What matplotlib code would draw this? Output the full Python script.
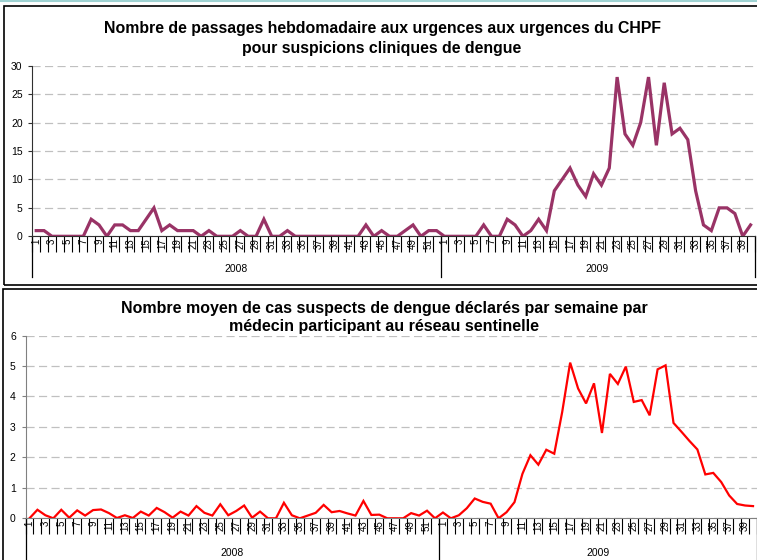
import matplotlib
matplotlib.use("Agg")
import matplotlib.pyplot as plt
from matplotlib.lines import Line2D
from matplotlib.patches import Rectangle
import matplotlib.transforms as mtransforms

plt.rcParams['font.family'] = ['Liberation Sans', 'DejaVu Sans']

# weeks shown on the category axis
weeks_2008 = list(range(1, 53))
weeks_2009 = list(range(1, 41))
years = ['2008', '2009']

# weekly ER visits at CHPF for clinical suspicion of dengue
urg_2008 = [1, 1, 0, 0, 0, 0, 0, 3, 2, 0,
            2, 2, 1, 1, 3, 5, 1, 2, 1, 1,
            1, 0, 1, 0, 0, 0, 1, 0, 0, 3,
            0, 0, 1, 0, 0, 0, 0, 0, 0, 0,
            0, 0, 2, 0, 1, 0, 0, 1, 2, 0,
            1, 1]
urg_2009 = [0, 0, 0, 0, 0, 2, 0, 0, 3, 2,
            0, 1, 3, 1, 8, 10, 12, 9, 7, 11,
            9, 12, 28, 18, 16, 20, 28, 16, 27, 18,
            19, 17, 8, 2, 1, 5, 5, 4, 0, 2]

# mean suspected cases per sentinel physician per week
sent_2008 = [0, 0.28, 0.1, 0, 0.28, 0.02, 0.26, 0.09, 0.27, 0.29,
             0.17, 0.01, 0.1, 0.01, 0.22, 0.09, 0.34, 0.2, 0.02, 0.22,
             0.09, 0.4, 0.18, 0.09, 0.46, 0.1, 0.24, 0.42, 0.02, 0.22,
             0, 0, 0.51, 0.1, 0, 0.09, 0.18, 0.44, 0.2, 0.24,
             0.16, 0.09, 0.57, 0.11, 0.12, 0, 0, 0, 0.17, 0.09,
             0.25, 0]
sent_2009 = [0.19, 0, 0.1, 0.33, 0.65, 0.54, 0.48, 0, 0.2, 0.53,
             1.46, 2.07, 1.76, 2.25, 2.12, 3.49, 5.11, 4.26, 3.77, 4.43,
             2.8, 4.74, 4.41, 4.98, 3.82, 3.88, 3.38, 4.89, 5.02, 3.13,
             2.84, 2.54, 2.26, 1.44, 1.49, 1.19, 0.75, 0.47, 0.42, 0.4]

title_top = ("Nombre de passages hebdomadaire aux urgences aux urgences du CHPF\n"
             "pour suspicions cliniques de dengue")
title_bottom = ("Nombre moyen de cas suspects de dengue déclarés par semaine par\n"
                "médecin participant au réseau sentinelle")

W, H = 757, 560
fig = plt.figure(figsize=(W / 100, H / 100), dpi=100)


def px(x0, y0, x1, y1):
    # pixel box (top-left origin) -> figure fraction rect
    return [x0 / W, 1 - y1 / H, (x1 - x0) / W, (y1 - y0) / H]


def draw_panel(ax, v2008, v2009, color, lw, ymax, ystep, axis_color, drop):
    values = v2008 + v2009
    weeks = weeks_2008 + weeks_2009
    n = len(values)
    x = list(range(n))
    ax.plot(x, values, color=color, lw=lw, solid_joinstyle='miter', zorder=3)
    ax.set_xlim(-0.5, n - 0.5)
    ax.set_ylim(0, ymax)
    ax.set_yticks([i * ystep for i in range(int(ymax / ystep) + 1)])
    ax.yaxis.grid(True, linestyle=(0, (6.5, 3.5)), color='#c0c0c0', lw=0.9)
    ax.set_axisbelow(True)
    for s in ['top', 'right']:
        ax.spines[s].set_visible(False)
    ax.spines['left'].set_color(axis_color)
    ax.spines['bottom'].set_color(axis_color)
    ax.tick_params(axis='y', length=3, pad=4, labelsize=7.5, color=axis_color)

    # category labels (odd weeks) at centres, tick marks between categories
    ax.set_xticks(x)
    ax.set_xticklabels([str(w) if w % 2 == 1 else '' for w in weeks],
                       rotation=90, fontsize=7)
    ax.tick_params(axis='x', which='major', length=0, pad=1.5)
    ax.set_xticks([i - 0.5 for i in range(n + 1)], minor=True)
    ax.tick_params(axis='x', which='minor', length=11.5, width=0.8,
                   color='black', direction='out')

    # second level: years
    trans = mtransforms.blended_transform_factory(ax.transData, ax.transAxes)
    split = len(v2008) - 0.5
    for xb in [-0.5, split, n - 0.5]:
        ax.add_line(Line2D([xb, xb], [0, -drop], transform=trans,
                           color='black', lw=0.9, clip_on=False))
    ax.text((len(v2008) - 1) / 2, -0.19, years[0], transform=trans,
            ha='center', va='center', fontsize=7.5)
    ax.text(len(v2008) + (len(v2009) - 1) / 2, -0.19, years[1], transform=trans,
            ha='center', va='center', fontsize=7.5)


ax1 = fig.add_axes(px(32.3, 65.7, 754.5, 236.3))
draw_panel(ax1, urg_2008, urg_2009, '#993366', 2.3, 30, 5, '#303030', 0.24)

ax2 = fig.add_axes(px(25.5, 335.5, 757.0, 518.3))
draw_panel(ax2, sent_2008, sent_2009, '#ff0000', 1.6, 6, 1, '#808080', 0.26)

fig.text(382 / W, 1 - 38.5 / H, title_top, ha='center', va='center',
         fontsize=11.4, fontweight='bold', linespacing=1.42)
fig.text(384 / W, 1 - 317.5 / H, title_bottom, ha='center', va='center',
         fontsize=11.5, fontweight='bold', linespacing=1.3)

# chart frames
fig.add_artist(Line2D([0, 1], [1 - 0.8 / H, 1 - 0.8 / H], color='#9fd3d3', lw=1.5))
fig.add_artist(Rectangle((4 / W, 1 - 284.5 / H), 760 / W, 278.5 / H,
                         fill=False, ec='black', lw=1.2))
fig.add_artist(Rectangle((3 / W, -10 / H), 760 / W, (560 - 288.5 + 10) / H,
                         fill=False, ec='black', lw=1.2))

plt.savefig('out.png', dpi=100)
